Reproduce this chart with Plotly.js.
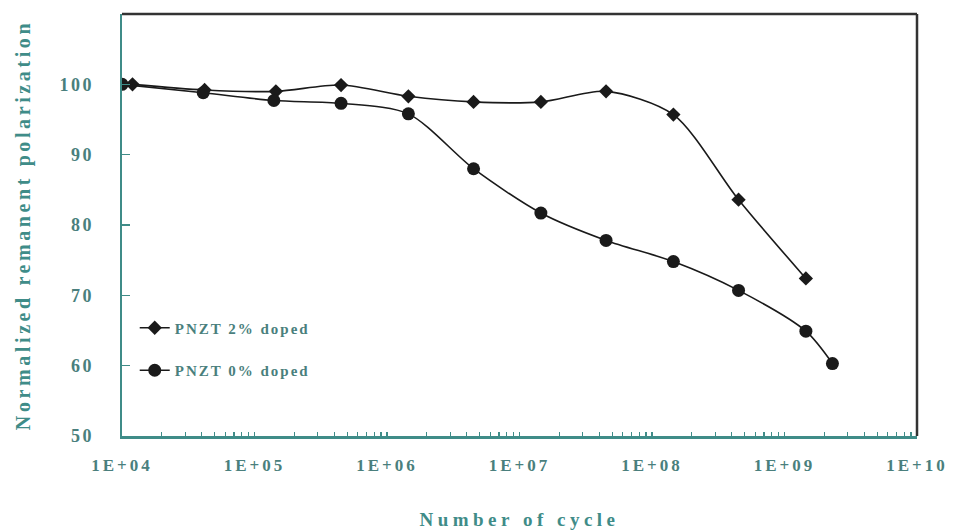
<!DOCTYPE html>
<html>
<head>
<meta charset="utf-8">
<script src="https://cdn.plot.ly/plotly-3.0.1.min.js"></script>
<style>
  body { margin: 0; background: #fff; }
  #chart { width: 957px; height: 530px; }
  .xtick text { letter-spacing: 3px; }
  .ytick text { letter-spacing: 2.5px; }
  .g-xtitle text { letter-spacing: 4.5px; }
  .g-ytitle text { letter-spacing: 3.6px; }
  .legendtext { letter-spacing: 2px; }
</style>
</head>
<body>
<div id="chart"></div>
<script>
// Series: PNZT 2% doped (diamonds)
const cycles2 = [1.2e4, 4.2e4, 1.45e5, 4.5e5, 1.45e6, 4.5e6, 1.45e7, 4.5e7, 1.45e8, 4.5e8, 1.45e9];
const pol2    = [100, 99.2, 99.0, 99.9, 98.3, 97.5, 97.5, 99.0, 95.7, 83.6, 72.4];
// Series: PNZT 0% doped (circles)
const cycles0 = [1e4, 4.1e4, 1.4e5, 4.5e5, 1.45e6, 4.5e6, 1.45e7, 4.5e7, 1.45e8, 4.5e8, 1.45e9, 2.3e9];
const pol0    = [100, 98.8, 97.7, 97.3, 95.8, 88.0, 81.7, 77.8, 74.8, 70.7, 64.9, 60.3];

const seriesNames = ['PNZT 2% doped', 'PNZT 0% doped'];
const decadeLabels = ['1E+04', '1E+05', '1E+06', '1E+07', '1E+08', '1E+09', '1E+10'];
const decadeExponents = [4, 5, 6, 7, 8, 9, 10];
const yTicks = [50, 60, 70, 80, 90, 100];

// Build log-axis tick positions (every 1..9 per decade), label only decades
const tickVals = [], tickText = [];
decadeExponents.forEach((e, i) => {
  const base = Math.pow(10, e);
  tickVals.push(base); tickText.push(decadeLabels[i]);
  if (i < decadeExponents.length - 1) {
    for (let m = 2; m <= 9; m++) { tickVals.push(m * base); tickText.push(''); }
  }
});

const fontFam = '"Liberation Serif", "Times New Roman", serif';
const teal = '#3f8c88';
const labelCol = '#4a7f7d';

const traces = [
  {
    x: cycles2, y: pol2, name: seriesNames[0], type: 'scatter', mode: 'lines+markers',
    line: {color: '#1a1a1a', width: 1.6, shape: 'spline', smoothing: 0.8},
    marker: {symbol: 'diamond', size: 11, color: '#1a1a1a'},
    legendgroup: 'a'
  },
  {
    x: cycles0, y: pol0, name: seriesNames[1], type: 'scatter', mode: 'lines+markers',
    line: {color: '#1a1a1a', width: 1.6, shape: 'spline', smoothing: 0.8},
    marker: {symbol: 'circle', size: 13, color: '#1a1a1a'},
    legendgroup: 'b'
  }
];

const layout = {
  width: 957, height: 530,
  margin: {l: 122, r: 40, t: 14, b: 94},
  paper_bgcolor: '#fff', plot_bgcolor: '#fff',
  showlegend: true,
  legend: {
    x: 0.016, y: 0.295, xanchor: 'left', yanchor: 'top',
    bgcolor: 'rgba(0,0,0,0)', traceorder: 'grouped', tracegroupgap: 20,
    font: {family: fontFam, size: 15, color: labelCol, weight: 'bold'}
  },
  xaxis: {
    type: 'log', range: [4, 10],
    tickmode: 'array', tickvals: tickVals, ticktext: tickText,
    ticks: 'inside', ticklen: 4, tickwidth: 1.2, tickcolor: teal,
    showline: true, linecolor: teal, linewidth: 2.5,
    showgrid: false, zeroline: false,
    tickfont: {family: fontFam, size: 17, color: labelCol, weight: 'bold'},
    ticklabelstandoff: 12,
    title: {text: 'Number of cycle', font: {family: fontFam, size: 19, color: teal, weight: 'bold'}, standoff: 40}
  },
  yaxis: {
    range: [50, 110], tickvals: yTicks,
    ticks: 'inside', ticklen: 8, tickwidth: 1.2, tickcolor: teal,
    showline: true, linecolor: teal, linewidth: 2.5,
    showgrid: false, zeroline: false,
    tickfont: {family: fontFam, size: 18, color: labelCol, weight: 'bold'},
    ticklabelstandoff: 22,
    title: {text: 'Normalized remanent polarization', font: {family: fontFam, size: 20, color: teal, weight: 'bold'}, standoff: 24}
  },
  shapes: [
    {type: 'line', xref: 'paper', yref: 'paper', x0: 0, x1: 1, y0: 1, y1: 1, line: {color: '#333', width: 2.5}},
    {type: 'line', xref: 'paper', yref: 'paper', x0: 1, x1: 1, y0: 0, y1: 1, line: {color: '#333', width: 2.5}}
  ]
};

Plotly.newPlot('chart', traces, layout, {displayModeBar: false, staticPlot: true});
</script>
</body>
</html>
